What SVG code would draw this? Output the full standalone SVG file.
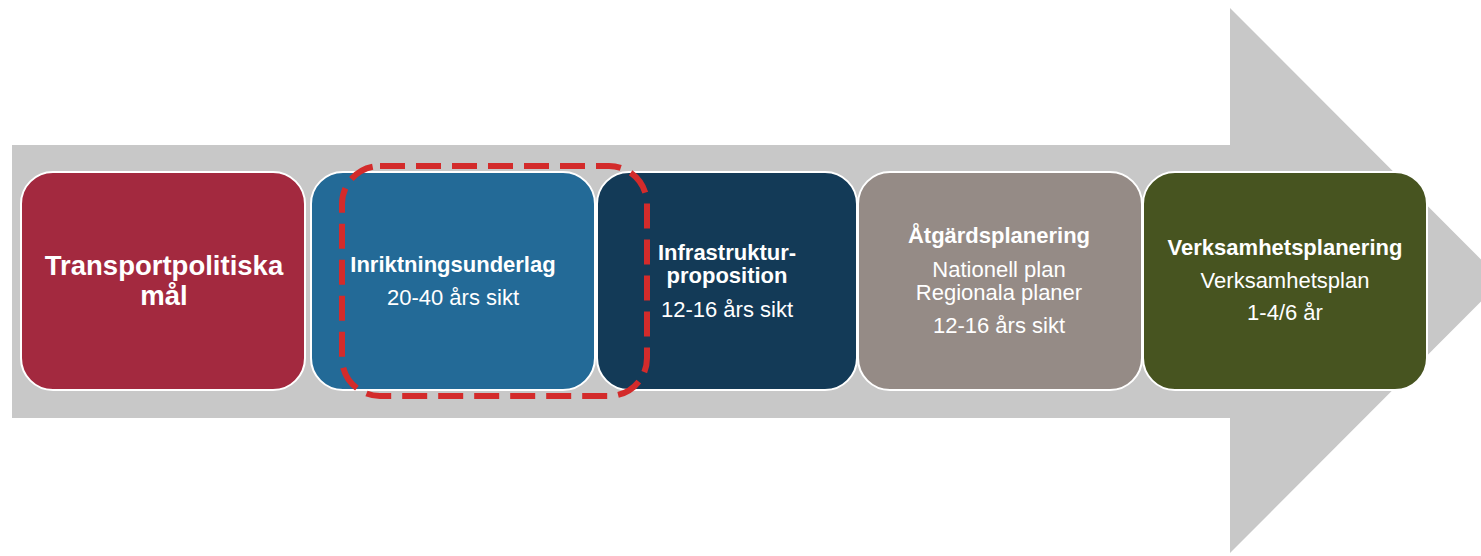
<svg xmlns="http://www.w3.org/2000/svg" width="1481" height="556" viewBox="0 0 1481 556">
  <style>
    .box { stroke: #ffffff; stroke-width: 2; }
    .t { font-family: "Liberation Sans", Arial, sans-serif; fill: #ffffff; text-anchor: middle; font-size: 22px; }
    .b { font-weight: bold; }
    .big { font-size: 27.5px; font-weight: bold; }
  </style>
  <rect width="1481" height="556" fill="#ffffff"/>
  <g id="arrow">
    <polygon points="12,145 1230,145 1230,8 1502,280.5 1230,553 1230,418 12,418" fill="#c8c8c8"/>
  </g>
  <g id="node-transportpolitiska">
    <rect class="box" x="21" y="172" width="284" height="218" rx="32" fill="#a3293f"/>
    <text class="t big" x="164" y="275">Transportpolitiska</text>
    <text class="t big" x="164" y="305">mål</text>
  </g>
  <g id="node-inriktningsunderlag">
    <rect class="box" x="311" y="172" width="284" height="218" rx="32" fill="#236a97"/>
    <text class="t b" x="453" y="272">Inriktningsunderlag</text>
    <text class="t" x="453" y="305">20-40 års sikt</text>
  </g>
  <g id="node-infrastrukturproposition">
    <rect class="box" x="597" y="172" width="260" height="218" rx="32" fill="#133a57"/>
    <text class="t b" x="727" y="260">Infrastruktur-</text>
    <text class="t b" x="727" y="283">proposition</text>
    <text class="t" x="727" y="317">12-16 års sikt</text>
  </g>
  <g id="node-atgardsplanering">
    <rect class="box" x="858" y="172" width="284" height="218" rx="32" fill="#958b86"/>
    <text class="t b" x="999" y="243">Åtgärdsplanering</text>
    <text class="t" x="999" y="277">Nationell plan</text>
    <text class="t" x="999" y="300">Regionala planer</text>
    <text class="t" x="999" y="333">12-16 års sikt</text>
  </g>
  <g id="node-verksamhetsplanering">
    <rect class="box" x="1143" y="172" width="284" height="218" rx="32" fill="#475420"/>
    <text class="t b" x="1285" y="255">Verksamhetsplanering</text>
    <text class="t" x="1285" y="288">Verksamhetsplan</text>
    <text class="t" x="1285" y="320">1-4/6 år</text>
  </g>
  <g id="highlight">
    <rect x="342" y="166" width="305" height="230" rx="38" fill="none" stroke="#d32b2b" stroke-width="6" stroke-dasharray="25 11"/>
  </g>
</svg>
